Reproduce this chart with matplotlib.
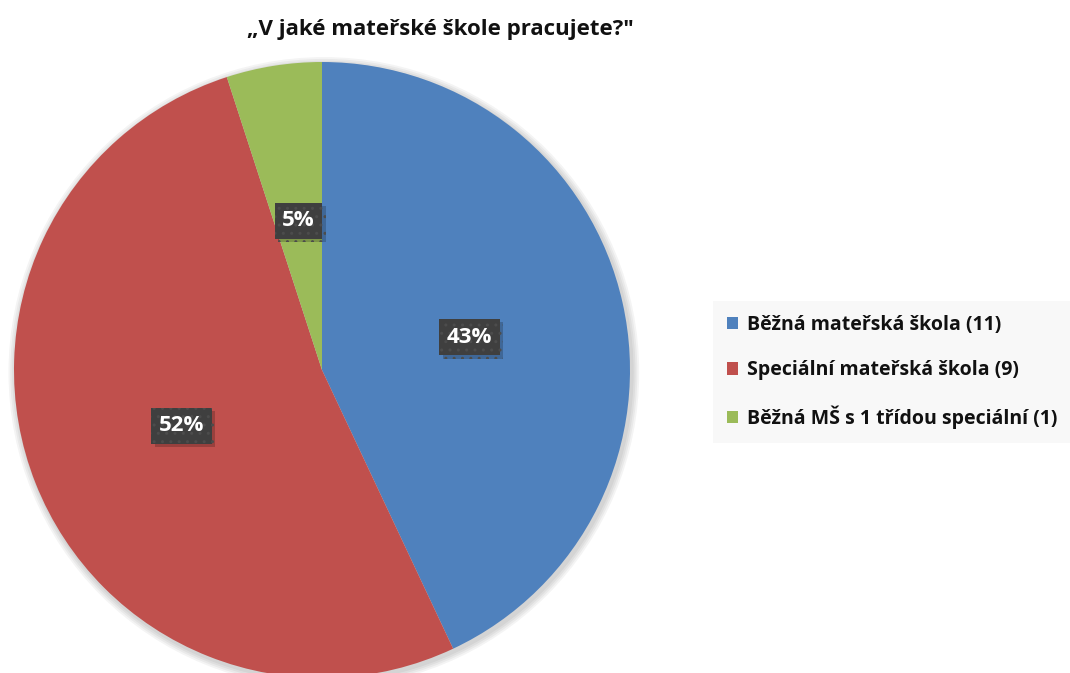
import matplotlib
matplotlib.use("Agg")
import matplotlib.pyplot as plt
from matplotlib.patches import Patch, Circle
import matplotlib.patheffects as pe

# Data
categories = ["Běžná mateřská škola (11)",
              "Speciální mateřská škola (9)",
              "Běžná MŠ s 1 třídou speciální (1)"]
shares = [43, 52, 5]
colors = ["#4F81BD", "#C0504D", "#9BBB59"]
title = "„V jaké mateřské škole pracujete?\""

plt.rcParams['font.family'] = ['Open Sans', 'DejaVu Sans']

W, H = 1070, 673
fig = plt.figure(figsize=(W / 100, H / 100), dpi=100)
fig.patch.set_facecolor("white")

# pie axes: center (322, 370) px, radius 308 px
cx, cy, r = 322, 370, 308
ax = fig.add_axes([(cx - r) / W, (H - cy - r) / H, 2 * r / W, 2 * r / H])
ax.axis("off")

# soft shadow behind the pie
for k in range(4):
    ax.add_patch(Circle((0.006, -0.008), 1 + 0.006 * (k + 1), facecolor="black",
                        alpha=0.045, linewidth=0, clip_on=False, zorder=0))

wedges, texts, autotexts = ax.pie(
    shares, colors=colors, startangle=90, counterclock=False, radius=1,
    autopct=lambda p: f"{p:.0f}%", pctdistance=0.49,
    wedgeprops=dict(linewidth=0, zorder=1),
    textprops=dict(color="white", fontsize=16, fontweight="bold"))
ax.set_xlim(-1, 1)
ax.set_ylim(-1, 1)
ax.set_aspect("equal")

for w in wedges:
    w.set_clip_on(False)

for t in autotexts:
    t.set_zorder(5)
    t.set_bbox(dict(boxstyle="square,pad=0.34", facecolor="#3F3F3F",
                    edgecolor="#4C4C4C", hatch="..", linewidth=0))
    t.get_bbox_patch().set_path_effects(
        [pe.SimplePatchShadow(offset=(2.5, -2.5), alpha=0.2, shadow_rgbFace="black"), pe.Normal()])

fig.text(440 / W, 1 - 29 / H, title, ha="center", va="center",
         fontsize=16, fontweight="bold", color="#111111")

handles = [Patch(facecolor=c, edgecolor="none") for c in colors]
leg = fig.legend(handles, categories, loc="center left",
                 bbox_to_anchor=(713 / W, 1 - 372 / H),
                 frameon=True, fancybox=False, facecolor="#F8F8F8", edgecolor="none",
                 framealpha=1, handlelength=0.6, handleheight=0.6, handletextpad=0.45,
                 labelspacing=1.3, borderpad=0.7, borderaxespad=0,
                 prop=dict(size=14, weight="bold"))
for t in leg.get_texts():
    t.set_color("#111111")

fig.savefig("out.png", dpi=100, facecolor="white")
